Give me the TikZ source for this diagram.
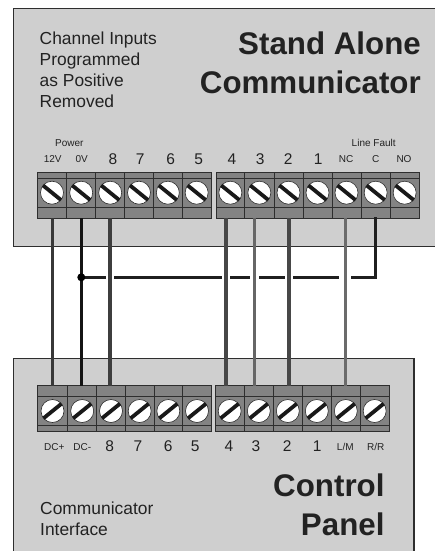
\documentclass[tikz,border=0pt]{standalone}
\usepackage{fontspec}
\setmainfont{Liberation Sans}
\definecolor{panel}{HTML}{CFCFCF}
\definecolor{blockc}{HTML}{838383}
\definecolor{edge}{HTML}{2E2E2E}
\definecolor{ink}{HTML}{222222}
\tikzset{
  x=1pt,y=-1pt,
  boxedge/.style={draw=edge,line width=1.1pt},
  title/.style={inner sep=0,anchor=base east,text=ink,font=\fontsize{31.3}{31.3}\selectfont\bfseries},
  note/.style={inner sep=0,anchor=base west,text=ink,font=\fontsize{17.4}{17.4}\selectfont},
  num/.style={inner sep=0,anchor=base,text=ink,font=\fontsize{15.5}{15.5}\selectfont},
  tiny/.style={inner sep=0,anchor=base,text=ink,font=\fontsize{10}{10}\selectfont},
  screw/.style={circle,draw=edge,fill=white,line width=.6pt,minimum size=23pt,inner sep=0},
  slot/.style={line width=3.8pt,draw=black!90},
  divider/.style={draw=edge,line width=.9pt},
  wire/.style={line width=#1,line cap=butt},
  wire/.default=3pt,
  jump/.style={line width=2.7pt,draw=black!88},
}
\begin{document}
\begin{tikzpicture}
\useasboundingbox (0,0) rectangle (435,551);
% panels
\fill[panel] (13.5,8.5) rectangle (435,246.5);
\draw[boxedge] (435,8.5) -- (13.5,8.5) -- (13.5,246.5) -- (435,246.5);
\fill[panel] (13.5,358.7) rectangle (414,551);
\draw[boxedge] (13.5,551) -- (13.5,358.7) -- (414,358.7) -- (414,551);
% top terminal blocks
\foreach \a/\b/\n in {37.3/66.7/a,66.7/95.7/b,95.7/124.7/c,124.7/153.3/d,153.3/182.3/e,182.3/211/f,
  216/244.7/g,244.7/274/h,274/303/i,303/332/j,332/361/k,361/390.3/l,390.3/419/m}{
  \draw[divider,fill=blockc] (\a,172) rectangle (\b,218);
  \draw[divider,line width=.7pt] (\a,178) -- (\b,178) (\a,207) -- (\b,207);
  \node[screw] (top\n) at ({(\a+\b)/2},192.7) {};
  \draw[slot] ([shift={(-9,-7.3)}]top\n.center) -- ([shift={(9,7.3)}]top\n.center);
}
% bottom terminal blocks
\foreach \a/\b/\n in {37.3/67.7/a,67.7/96.7/b,96.7/125.3/c,125.3/154/d,154/182.7/e,182.7/211.3/f,
  215/244.3/g,244.3/273.3/h,273.3/302.3/i,302.3/331.3/j,331.3/360.3/k,360.3/389/l}{
  \draw[divider,fill=blockc] (\a,385.7) rectangle (\b,431.3);
  \draw[divider,line width=.7pt] (\a,396.7) -- (\b,396.7) (\a,425.7) -- (\b,425.7);
  \node[screw] (bot\n) at ({(\a+\b)/2},411) {};
  \draw[slot] ([shift={(-9,7.3)}]bot\n.center) -- ([shift={(9,-7.3)}]bot\n.center);
}
% wire end points
\foreach \n/\x in {dcp/52.3,dcn/81.3,eight/110,four/225.7,three/254.3,two/289,nc/345}{
  \coordinate (\n T) at (\x,218);
  \coordinate (\n B) at (\x,385.7);
}
\draw[wire=3pt,draw=black!78] (dcpT) -- (dcpB);
\draw[wire=3.4pt,draw=black!92] (dcnT) -- (dcnB);
\draw[wire=3.1pt,draw=black!76] (eightT) -- (eightB);
\draw[wire=3.6pt,draw=black!72] (fourT) -- (fourB);
\draw[wire=2.8pt,draw=black!60] (threeT) -- (threeB);
\draw[wire=3.2pt,draw=black!72] (twoT) -- (twoB);
\draw[wire=3pt,draw=black!58] (ncT) -- (ncB);
% broken common wire
\coordinate (j0) at (81.3,277.3);
\coordinate (j1) at (106,277.3);
\coordinate (j2) at (114.3,277.3);
\coordinate (j3) at (221.7,277.3);
\coordinate (j4) at (230,277.3);
\coordinate (j5) at (250,277.3);
\coordinate (j6) at (259,277.3);
\coordinate (j7) at (285,277.3);
\coordinate (j8) at (293,277.3);
\coordinate (j9) at (339.3,277.3);
\coordinate (j10) at (351.3,277.3);
\coordinate (j11) at (375.7,277.3);
\coordinate (cT) at (375.7,217);
\draw[jump] (j0)--(j1) (j2)--(j3) (j4)--(j5) (j6)--(j7) (j8)--(j9);
\draw[jump,line join=miter] (j10) -- (j11) -- (cT);
\fill[black] (j0) circle (4);
% titles
\node[title] (t1) at (421,55) {Stand Alone};
\node[title] (t2) at (421,93.3) {Communicator};
\node[title] (t3) at (384.7,496) {Control};
\node[title] (t4) at (384.7,535) {Panel};
\node[note] (n1) at (39.5,45) {Channel Inputs};
\node[note] (n2) at (39.5,66) {Programmed};
\node[note] (n3) at (39.5,86.7) {as Positive};
\node[note] (n4) at (39.5,107.3) {Removed};
\node[note] (n5) at (40,514.3) {Communicator};
\node[note] (n6) at (40,535) {Interface};
% top labels
\node[tiny] (lp) at (69.3,146) {Power};
\node[tiny] (lf) at (373.7,146) {Line Fault};
\node[tiny] (l12) at (52.7,162.3) {12V};
\node[tiny] (l0) at (81.7,162.3) {0V};
\node[tiny] (lnc) at (346,162.3) {NC};
\node[tiny] (lc) at (375.7,162.3) {C};
\node[tiny] (lno) at (404,162.3) {NO};
\foreach \t/\x in {8/113,7/140.3,6/170.7,5/198.7,4/232,3/260.3,2/288.3,1/318.3}
  \node[num] (tl\t) at (\x,164) {\t};
% bottom labels
\node[tiny] (ldp) at (54.3,450) {DC+};
\node[tiny] (ldn) at (82.3,450) {DC-};
\node[tiny] (llm) at (345.3,450) {L/M};
\node[tiny] (lrr) at (375.7,450) {R/R};
\foreach \t/\x in {8/109.7,7/138,6/168.3,5/195.3,4/229,3/256,2/287.3,1/317.3}
  \node[num] (bl\t) at (\x,451.2) {\t};
\end{tikzpicture}
\end{document}
